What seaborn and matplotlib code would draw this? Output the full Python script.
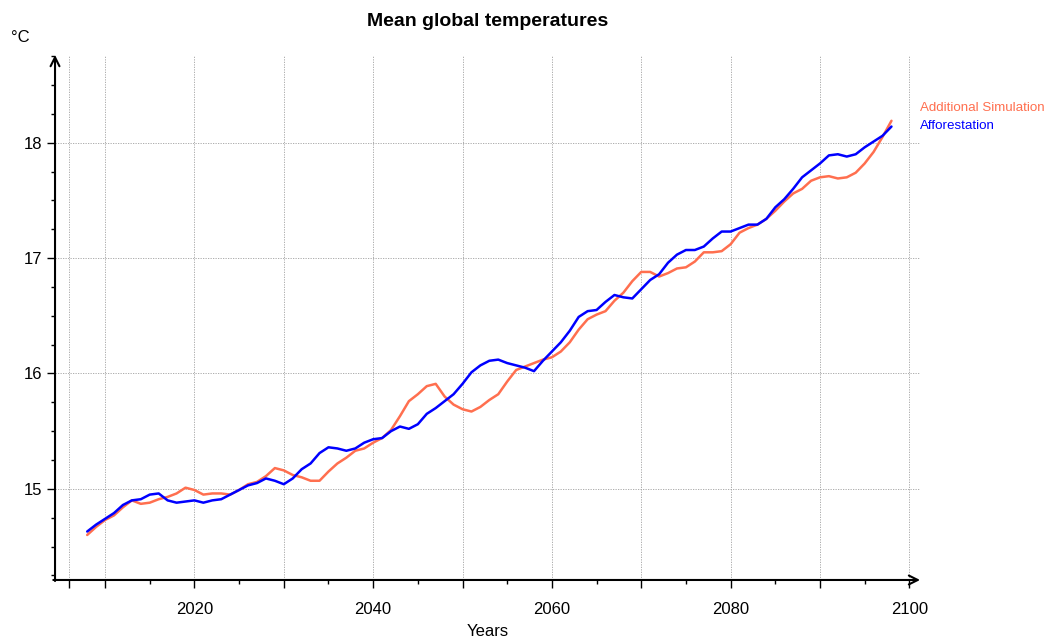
import numpy as np
import pandas as pd
import matplotlib
matplotlib.use("Agg")
import matplotlib.pyplot as plt
from matplotlib.ticker import FixedLocator, MultipleLocator
import seaborn as sns

years = list(range(2008, 2099))

additional = [
    14.60, 14.67, 14.73, 14.77, 14.84, 14.90, 14.87, 14.88, 14.91, 14.93,
    14.96, 15.01, 14.99, 14.95, 14.96, 14.96, 14.95, 14.99, 15.04, 15.06,
    15.11, 15.18, 15.16, 15.12, 15.10, 15.07, 15.07, 15.15, 15.22, 15.27,
    15.33, 15.35, 15.40, 15.44, 15.51, 15.63, 15.76, 15.82, 15.89, 15.91,
    15.80, 15.73, 15.69, 15.67, 15.71, 15.77, 15.82, 15.93, 16.03, 16.06,
    16.09, 16.12, 16.14, 16.19, 16.27, 16.38, 16.47, 16.51, 16.54, 16.63,
    16.70, 16.80, 16.88, 16.88, 16.84, 16.87, 16.91, 16.92, 16.97, 17.05,
    17.05, 17.06, 17.12, 17.22, 17.26, 17.29, 17.34, 17.41, 17.49, 17.56,
    17.60, 17.67, 17.70, 17.71, 17.69, 17.70, 17.74, 17.82, 17.92, 18.05,
    18.19,
]

afforestation = [
    14.63, 14.69, 14.74, 14.79, 14.86, 14.90, 14.91, 14.95, 14.96, 14.90,
    14.88, 14.89, 14.90, 14.88, 14.90, 14.91, 14.95, 14.99, 15.03, 15.05,
    15.09, 15.07, 15.04, 15.09, 15.17, 15.22, 15.31, 15.36, 15.35, 15.33,
    15.35, 15.40, 15.43, 15.44, 15.50, 15.54, 15.52, 15.56, 15.65, 15.70,
    15.76, 15.82, 15.91, 16.01, 16.07, 16.11, 16.12, 16.09, 16.07, 16.05,
    16.02, 16.11, 16.19, 16.27, 16.37, 16.49, 16.54, 16.55, 16.62, 16.68,
    16.66, 16.65, 16.73, 16.81, 16.86, 16.96, 17.03, 17.07, 17.07, 17.10,
    17.17, 17.23, 17.23, 17.26, 17.29, 17.29, 17.34, 17.44, 17.51, 17.60,
    17.70, 17.76, 17.82, 17.89, 17.90, 17.88, 17.90, 17.96, 18.01, 18.06,
    18.14,
]

series_names = ["Additional Simulation", "Afforestation"]
series_colors = ["#ff6f4f", "#0000ff"]

df = pd.DataFrame({
    "Year": years * 2,
    "Temp": additional + afforestation,
    "Scenario": [series_names[0]] * len(years) + [series_names[1]] * len(years),
})

sns.set_theme(style="white")
plt.rcParams["font.family"] = ["Liberation Sans", "DejaVu Sans"]
plt.rcParams.update({"text.color": "black", "axes.labelcolor": "black",
                     "xtick.color": "black", "ytick.color": "black"})

fig = plt.figure(figsize=(10.46, 6.42), dpi=100)
ax = fig.add_axes([0.0526, 0.0966, 0.827, 0.8177])

sns.lineplot(data=df, x="Year", y="Temp", hue="Scenario",
             palette=dict(zip(series_names, series_colors)),
             linewidth=1.8, ax=ax, legend=False)

ax.set_xlim(2004.4, 2101.2)
ax.set_ylim(14.21, 18.76)

# ticks
xmajor = [2006] + list(range(2010, 2101, 10))
ax.xaxis.set_major_locator(FixedLocator(xmajor))
ax.xaxis.set_minor_locator(FixedLocator(list(range(2015, 2100, 10))))
ax.set_xticklabels(["" if (t % 20 or t == 2006) else str(t) for t in xmajor])
ax.yaxis.set_major_locator(FixedLocator([15, 16, 17, 18]))
ax.yaxis.set_minor_locator(MultipleLocator(0.25))
ax.tick_params(axis="both", which="major", direction="out", length=6,
               width=1, labelsize=12, bottom=True, left=True)
ax.tick_params(axis="x", which="major", pad=10)
ax.tick_params(axis="both", which="minor", direction="out", length=3,
               width=1, bottom=True, left=True)

ax.grid(True, which="major", color="#a0a0a0", linestyle=(0, (1.5, 1.5)),
        linewidth=0.6)

for s in ax.spines.values():
    s.set_visible(False)

# arrowed axes
ax.annotate("", xy=(1.0, 0), xytext=(-0.002, 0), xycoords="axes fraction",
            arrowprops=dict(arrowstyle="->", color="black", lw=1.5,
                            mutation_scale=16, shrinkA=0, shrinkB=0))
ax.annotate("", xy=(0, 1.0), xytext=(0, -0.002), xycoords="axes fraction",
            arrowprops=dict(arrowstyle="->", color="black", lw=1.5,
                            mutation_scale=16, shrinkA=0, shrinkB=0))

ax.set_xlabel("Years", fontsize=12, labelpad=5)
ax.set_ylabel("")
ax.set_title("Mean global temperatures", fontsize=14, fontweight="bold",
             pad=21)
fig.text(0.0105, 1 - 37 / 642, "°C", fontsize=12, va="center", ha="left")

# legend as coloured text
for i, (name, col) in enumerate(zip(series_names, series_colors)):
    fig.text(920 / 1046, 1 - (108 + 18 * i) / 642, name, color=col,
             fontsize=9.6, va="center", ha="left")

plt.savefig("out.png", dpi=100)
